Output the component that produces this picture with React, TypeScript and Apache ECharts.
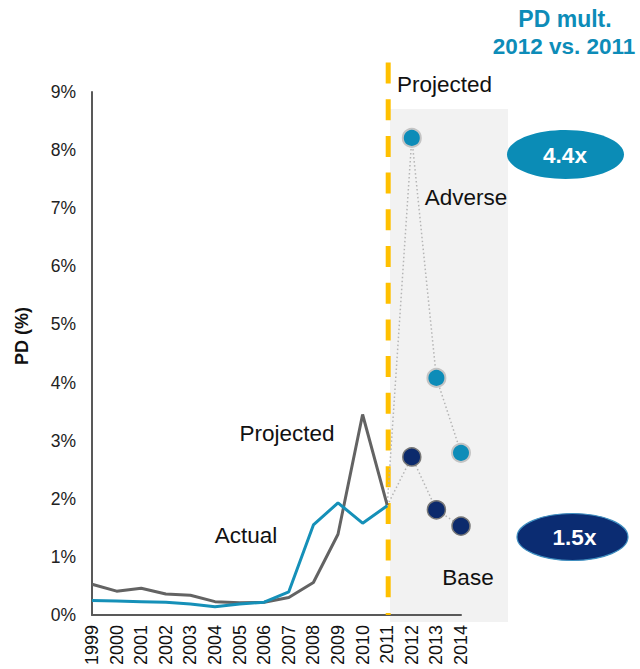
import React, { useEffect, useRef } from "react";
import * as echarts from "echarts";

const years = ["1999","2000","2001","2002","2003","2004","2005","2006","2007","2008","2009","2010","2011","2012","2013","2014"];
const projectedHist = [0.53,0.41,0.46,0.36,0.34,0.23,0.21,0.22,0.30,0.56,1.39,3.45,1.89,null,null,null];
const actualHist = [0.25,0.24,0.23,0.22,0.19,0.14,0.19,0.22,0.40,1.55,1.93,1.58,1.88,null,null,null];
const adversePath = [null,null,null,null,null,null,null,null,null,null,null,null,1.88,8.21,4.08,2.79];
const basePath = [null,null,null,null,null,null,null,null,null,null,null,null,1.88,2.72,1.81,1.53];
const adversePts = [null,null,null,null,null,null,null,null,null,null,null,null,null,8.21,4.08,2.79];
const basePts = [null,null,null,null,null,null,null,null,null,null,null,null,null,2.72,1.81,1.53];
const yTicks = [0,1,2,3,4,5,6,7,8,9];
const multAdverse = "4.4x";
const multBase = "1.5x";

const FONT = "'Liberation Sans', Arial, sans-serif";

export default function App() {
  const ref = useRef<HTMLDivElement>(null);
  useEffect(() => {
    document.body.style.margin = "0";
    const chart = echarts.init(ref.current!, null, { renderer: "svg" });
    const option: any = {
      animation: false,
      grid: { left: 92, right: 179, top: 92, bottom: 54, containLabel: false },
      xAxis: {
        type: "category",
        data: years,
        boundaryGap: false,
        axisLine: { lineStyle: { color: "#595959", width: 2 } },
        axisTick: { show: false },
        axisLabel: { rotate: 90, interval: 0, fontSize: 18, color: "#111", fontFamily: FONT, margin: 10 },
        splitLine: { show: false },
      },
      yAxis: {
        type: "value",
        min: yTicks[0],
        max: yTicks[yTicks.length - 1],
        interval: 1,
        axisLine: { show: true, lineStyle: { color: "#595959", width: 2 } },
        axisTick: { show: false },
        splitLine: { show: false },
        axisLabel: { formatter: "{value}%", fontSize: 17.5, color: "#222", fontFamily: FONT, margin: 16 },
      },
      series: [
        { type: "line", data: adversePath, showSymbol: false, symbol: "none", z: 3,
          lineStyle: { color: "#b5b5b5", width: 1.5, type: [1.5, 2.5] } },
        { type: "line", data: basePath, showSymbol: false, symbol: "none", z: 3,
          lineStyle: { color: "#b5b5b5", width: 1.5, type: [1.5, 2.5] } },
        { type: "line", data: projectedHist, showSymbol: false, symbol: "none", z: 4,
          lineStyle: { color: "#636363", width: 3 } },
        { type: "line", data: actualHist, showSymbol: false, symbol: "none", z: 5,
          lineStyle: { color: "#1590b8", width: 3 } },
        { type: "scatter", data: adversePts, symbolSize: 18, z: 6,
          itemStyle: { color: "#0d8cb8", borderColor: "#c4c4c4", borderWidth: 2, opacity: 1 } },
        { type: "scatter", data: basePts, symbolSize: 18, z: 6,
          itemStyle: { color: "#0c2a6c", borderColor: "#777", borderWidth: 1.5, opacity: 1 } },
      ],
    };
    chart.setOption(option);
    const x2011 = chart.convertToPixel({ xAxisIndex: 0 }, "2011") as number;
    const y0 = chart.convertToPixel({ yAxisIndex: 0 }, 0) as number;
    const txt = (text: string, x: number, y: number, size: number, color: string, weight = "normal", align = "center") => ({
      type: "text", x, y, z: 20,
      style: { text, fontSize: size, fontFamily: FONT, fontWeight: weight, fill: color, align, verticalAlign: "middle" },
    });
    chart.setOption({
      graphic: [
        { type: "rect", z: -10, shape: { x: 390, y: 109, width: 118, height: 513 }, style: { fill: "#f2f2f2" } },
        { type: "line", z: 1, shape: { x1: x2011 + 1, y1: 62.5, x2: x2011 + 1, y2: y0 },
          style: { stroke: "#ffc000", lineWidth: 5, lineDash: [21, 15.7] } },
        txt("PD mult.", 565, 19, 23, "#0d8cb8", "bold"),
        txt("2012 vs. 2011", 564, 46.5, 22.5, "#0d8cb8", "bold"),
        txt("Projected", 444.5, 84, 22.5, "#111"),
        txt("Adverse", 466, 197, 22.5, "#111"),
        txt("Base", 468, 577, 22.5, "#111"),
        txt("Projected", 287, 433.5, 22.5, "#111"),
        txt("Actual", 246, 535, 22.5, "#111"),
        { type: "text", x: 22, y: 336, rotation: Math.PI / 2, z: 20,
          style: { text: "PD (%)", fontSize: 18, fontWeight: "bold", fontFamily: FONT, fill: "#111", align: "center", verticalAlign: "middle" } },
        { type: "ellipse", z: 15, shape: { cx: 565.5, cy: 154.5, rx: 58.5, ry: 24.5 }, style: { fill: "#0b8cb6" } },
        txt(multAdverse, 565, 155, 22.5, "#ffffff", "bold"),
        { type: "ellipse", z: 15, shape: { cx: 572.5, cy: 537, rx: 55.5, ry: 23.5 }, style: { fill: "#0b2c72", stroke: "#3f8fc0", lineWidth: 1.2 } },
        txt(multBase, 574.5, 537.5, 22.5, "#ffffff", "bold"),
      ],
    });
    return () => chart.dispose();
  }, []);
  return <div ref={ref} style={{ width: 640, height: 669, position: "absolute", left: 0, top: 0 }} />;
}
